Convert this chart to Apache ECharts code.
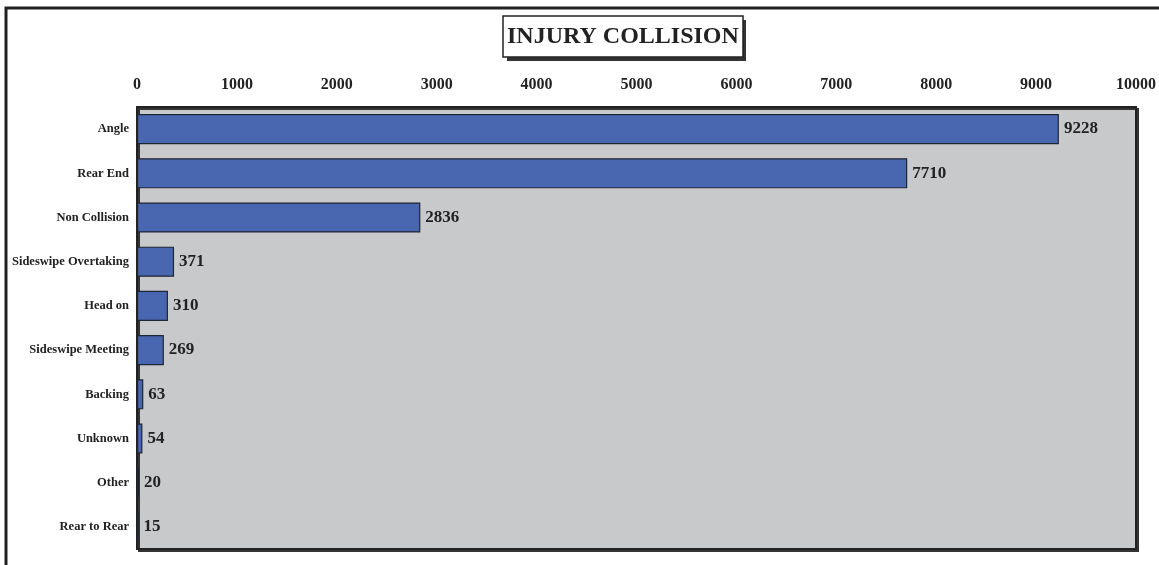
<!DOCTYPE html>
<html>
<head>
<meta charset="utf-8">
<script src="https://cdn.jsdelivr.net/npm/echarts@6/dist/echarts.min.js"></script>
<style>
  html, body { margin: 0; padding: 0; background: #ffffff; }
  #chart { width: 1159px; height: 565px; }
</style>
</head>
<body>
<div id="chart"></div>
<script>
var categories = ['Angle', 'Rear End', 'Non Collision', 'Sideswipe Overtaking', 'Head on',
  'Sideswipe Meeting', 'Backing', 'Unknown', 'Other', 'Rear to Rear']
var counts = [9228, 7710, 2836, 371, 310, 269, 63, 54, 20, 15]

var serif = '"Liberation Serif", "DejaVu Serif", serif'
var myChart = echarts.init(document.getElementById('chart'))

var option = {
  backgroundColor: '#ffffff',
  animation: false,
  title: {
    text: 'INJURY COLLISION',
    left: 503,
    top: 16,
    padding: [9, 4, 8, 4],
    backgroundColor: '#ffffff',
    borderColor: '#222222',
    borderWidth: 1.5,
    z: 10,
    textStyle: {
      fontFamily: serif,
      fontWeight: 'bold',
      fontSize: 24,
      color: '#222222'
    }
  },
  graphic: [{
    // outer frame
    type: 'rect',
    shape: { x: 6, y: 8, width: 1300, height: 700 },
    style: { fill: 'none', stroke: '#222222', lineWidth: 3 },
    silent: true
  }, {
    // title drop shadow
    type: 'rect',
    z: 1,
    shape: { x: 507, y: 20, width: 239, height: 41 },
    style: { fill: '#333333' },
    silent: true
  }],
  grid: {
    left: 137,
    right: 20,
    top: 107,
    bottom: 16,
    show: true,
    backgroundColor: '#c8c9cb',
    borderColor: '#222222',
    borderWidth: 2,
    shadowColor: '#333333',
    shadowBlur: 0,
    shadowOffsetX: 2,
    shadowOffsetY: 2
  },
  xAxis: {
    type: 'value',
    position: 'top',
    min: 0,
    max: 10000,
    interval: 1000,
    axisLine: { show: false },
    axisTick: { show: false },
    splitLine: { show: false },
    axisLabel: {
      margin: 14,
      formatter: function (v) { return String(v) },
      fontFamily: serif,
      fontWeight: 'bold',
      fontSize: 16,
      color: '#222222'
    }
  },
  yAxis: {
    type: 'category',
    inverse: true,
    data: categories,
    axisLine: { show: false },
    axisTick: { show: false },
    axisLabel: {
      margin: 8,
      fontFamily: serif,
      fontWeight: 'bold',
      fontSize: 12.5,
      color: '#222222'
    }
  },
  series: [{
    type: 'bar',
    data: counts,
    barWidth: '68%',
    itemStyle: {
      color: '#4966b0',
      borderColor: '#1e2533',
      borderWidth: 1.2
    },
    label: {
      show: true,
      position: 'right',
      distance: 5,
      fontFamily: serif,
      fontWeight: 'bold',
      fontSize: 17,
      color: '#222222'
    }
  }]
}

myChart.setOption(option)
window.addEventListener('resize', function () {
  myChart.resize()
})
</script>
</body>
</html>
